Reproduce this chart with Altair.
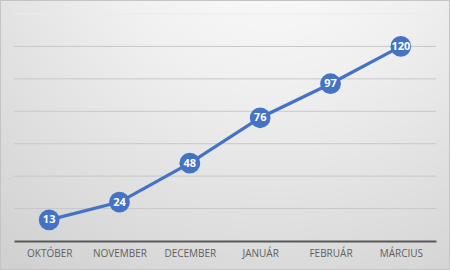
import altair as alt
import pandas as pd

months = ["OKTÓBER", "NOVEMBER", "DECEMBER", "JANUÁR", "FEBRUÁR", "MÁRCIUS"]
values = [13, 24, 48, 76, 97, 120]
grid_values = [20, 40, 60, 80, 100, 120, 140]

df = pd.DataFrame({"month": months, "value": values})
grid_df = pd.DataFrame({"value": grid_values})

W, H = 422, 227
PL, PT, PR, PB = 14, 14, 14, 29

bg = alt.Chart(pd.DataFrame({"a": [0]})).mark_rect(
    fill=alt.RadialGradient(
        gradient="radial",
        x1=0.6, y1=0.0, r1=0,
        x2=0.6, y2=0.0, r2=1.0,
        stops=[
            alt.GradientStop(offset=0, color="#ffffff"),
            alt.GradientStop(offset=0.4, color="#efefef"),
            alt.GradientStop(offset=1, color="#cfcfcf"),
        ],
    ),
    stroke="#c4c4c4",
    strokeWidth=1,
).encode(
    x=alt.value(-PL + 0.5), x2=alt.value(W + PR - 0.5),
    y=alt.value(-PT + 0.5), y2=alt.value(H + PB - 0.5),
)

yscale = alt.Scale(domain=[0, 140], nice=False)

grid = alt.Chart(grid_df).mark_rule(strokeWidth=1).encode(
    y=alt.Y("value:Q", scale=yscale, title=None,
            axis=alt.Axis(labels=False, ticks=False, domain=False, grid=False)),
    x=alt.value(0), x2=alt.value(W),
    color=alt.condition("datum.value >= 140", alt.value("#ebebeb"), alt.value("#c8c8c8")),
)

xenc = alt.X("month:N", sort=months, title=None,
             axis=alt.Axis(labelAngle=0, labelColor="#5f5f5f", labelFontSize=10,
                           labelFont="Open Sans", domainColor="#595959", domainWidth=2,
                           ticks=False, labelPadding=7, grid=False, zindex=1))
yenc = alt.Y("value:Q", title=None, scale=yscale)

base = alt.Chart(df).encode(x=xenc, y=yenc)

line = base.mark_line(color="#4472C4", strokeWidth=3.2)
pts = base.mark_point(filled=True, color="#4472C4", size=430, opacity=1, shape="circle")
txt = base.mark_text(color="white", fontWeight="bold", fontSize=11, font="Open Sans",
                     dy=0.5).encode(text="value:Q")

chart = alt.layer(bg, grid, line, pts, txt).properties(
    width=W, height=H,
    padding={"left": PL, "top": PT, "right": PR, "bottom": PB},
    autosize=alt.AutoSizeParams(type="none"),
).configure_view(stroke=None).configure(background="#d0d0d0")

chart.save("out.html", embed_options={"renderer": "svg", "actions": False})
